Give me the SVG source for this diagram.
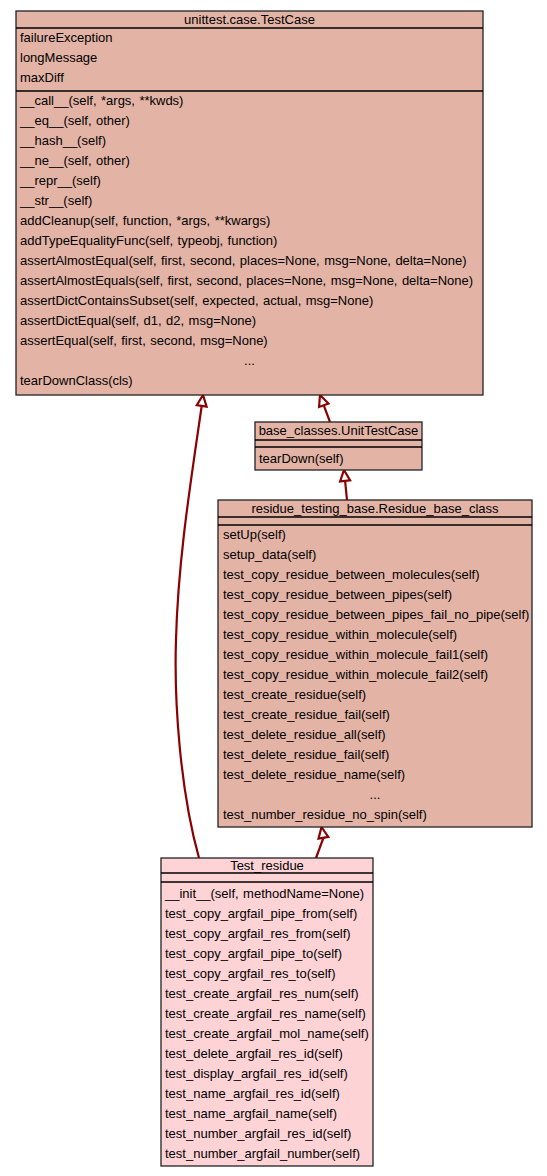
<svg xmlns="http://www.w3.org/2000/svg" width="547" height="1176" viewBox="0 0 547 1176">
<style>
text{font-family:"Liberation Sans",Arial,Helvetica,sans-serif;font-size:13px;word-spacing:0.8px;fill:#000}
.t{text-anchor:middle}
.box{fill:#e3b3a5;stroke:#222;stroke-width:1.3}
.box2{fill:#fdd3d6;stroke:#222;stroke-width:1.3}
.sep{stroke:#000;stroke-width:1.3}
.edge{fill:none;stroke:#8b0000;stroke-width:2.2}
.head{fill:#fff;stroke:#8b0000;stroke-width:2.2;stroke-linejoin:miter}
</style>
<rect width="547" height="1176" fill="#fff"/>
<g id="connectors">
<path class="edge" d="M199,858 C180,790 174,700 176,640 C178,560 191,480 201.7,406"/>
<polygon class="head" points="203,395 196.8,405.2 206.6,406.6"/>
<path class="edge" d="M330,422 L323.8,405.3"/>
<polygon class="head" points="320,395 328.5,403.6 319.1,407"/>
<path class="edge" d="M347,500 L345.1,480.9"/>
<polygon class="head" points="344,470 350.1,480.4 340.1,481.4"/>
<path class="edge" d="M316,858 L323.4,837.8"/>
<polygon class="head" points="321.5,827 328.3,836.9 318.5,838.7"/>
</g>
<g id="TestCase">
<rect class="box" x="16" y="11" width="467" height="384"/>
<line class="sep" x1="16" y1="28" x2="483" y2="28"/>
<line class="sep" x1="16" y1="91" x2="483" y2="91"/>
<text class="t" x="249.5" y="24">unittest.case.TestCase</text>
<text x="20" y="42">failureException</text>
<text x="20" y="62">longMessage</text>
<text x="20" y="82">maxDiff</text>
<text x="20" y="105">__call__(self, *args, **kwds)</text>
<text x="20" y="125">__eq__(self, other)</text>
<text x="20" y="145">__hash__(self)</text>
<text x="20" y="165">__ne__(self, other)</text>
<text x="20" y="185">__repr__(self)</text>
<text x="20" y="205">__str__(self)</text>
<text x="20" y="225">addCleanup(self, function, *args, **kwargs)</text>
<text x="20" y="245">addTypeEqualityFunc(self, typeobj, function)</text>
<text x="20" y="265">assertAlmostEqual(self, first, second, places=None, msg=None, delta=None)</text>
<text x="20" y="285">assertAlmostEquals(self, first, second, places=None, msg=None, delta=None)</text>
<text x="20" y="305">assertDictContainsSubset(self, expected, actual, msg=None)</text>
<text x="20" y="325">assertDictEqual(self, d1, d2, msg=None)</text>
<text x="20" y="345">assertEqual(self, first, second, msg=None)</text>
<text class="t" x="249.5" y="365">...</text>
<text x="20" y="385">tearDownClass(cls)</text>
</g>
<g id="UnitTestCase">
<rect class="box" x="255" y="422" width="167" height="48"/>
<line class="sep" x1="255" y1="440" x2="422" y2="440"/>
<line class="sep" x1="255" y1="447" x2="422" y2="447"/>
<text class="t" x="338.5" y="435">base_classes.UnitTestCase</text>
<text x="259" y="463">tearDown(self)</text>
</g>
<g id="Residue_base_class">
<rect class="box" x="218" y="500" width="314" height="327"/>
<line class="sep" x1="218" y1="517" x2="532" y2="517"/>
<line class="sep" x1="218" y1="525" x2="532" y2="525"/>
<text class="t" x="375" y="513">residue_testing_base.Residue_base_class</text>
<text x="223" y="539">setUp(self)</text>
<text x="223" y="559">setup_data(self)</text>
<text x="223" y="579">test_copy_residue_between_molecules(self)</text>
<text x="223" y="599">test_copy_residue_between_pipes(self)</text>
<text x="223" y="619">test_copy_residue_between_pipes_fail_no_pipe(self)</text>
<text x="223" y="639">test_copy_residue_within_molecule(self)</text>
<text x="223" y="659">test_copy_residue_within_molecule_fail1(self)</text>
<text x="223" y="679">test_copy_residue_within_molecule_fail2(self)</text>
<text x="223" y="699">test_create_residue(self)</text>
<text x="223" y="719">test_create_residue_fail(self)</text>
<text x="223" y="739">test_delete_residue_all(self)</text>
<text x="223" y="759">test_delete_residue_fail(self)</text>
<text x="223" y="779">test_delete_residue_name(self)</text>
<text class="t" x="375" y="799">...</text>
<text x="223" y="819">test_number_residue_no_spin(self)</text>
</g>
<g id="Test_residue">
<rect class="box2" x="161" y="858" width="212" height="308"/>
<line class="sep" x1="161" y1="873" x2="373" y2="873"/>
<line class="sep" x1="161" y1="882" x2="373" y2="882"/>
<text class="t" x="267" y="870">Test_residue</text>
<text x="165" y="898">__init__(self, methodName=None)</text>
<text x="165" y="918">test_copy_argfail_pipe_from(self)</text>
<text x="165" y="938">test_copy_argfail_res_from(self)</text>
<text x="165" y="958">test_copy_argfail_pipe_to(self)</text>
<text x="165" y="978">test_copy_argfail_res_to(self)</text>
<text x="165" y="998">test_create_argfail_res_num(self)</text>
<text x="165" y="1018">test_create_argfail_res_name(self)</text>
<text x="165" y="1038">test_create_argfail_mol_name(self)</text>
<text x="165" y="1058">test_delete_argfail_res_id(self)</text>
<text x="165" y="1078">test_display_argfail_res_id(self)</text>
<text x="165" y="1098">test_name_argfail_res_id(self)</text>
<text x="165" y="1118">test_name_argfail_name(self)</text>
<text x="165" y="1138">test_number_argfail_res_id(self)</text>
<text x="165" y="1158">test_number_argfail_number(self)</text>
</g>
</svg>
